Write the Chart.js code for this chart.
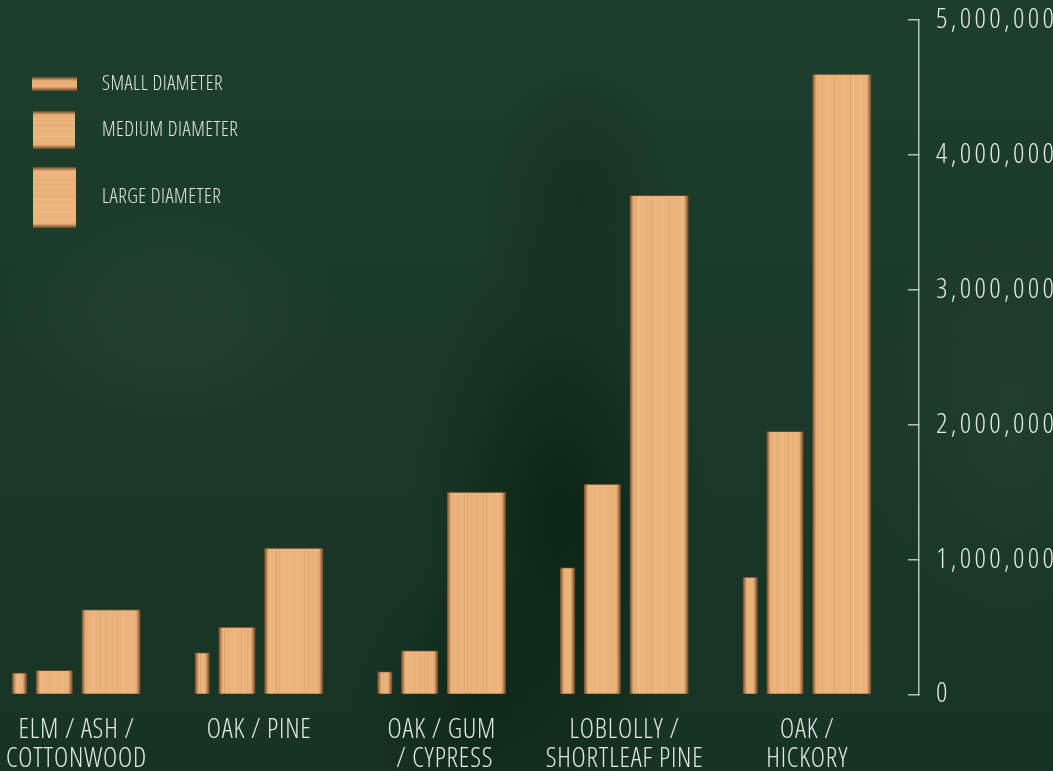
<!DOCTYPE html>
<html><head><meta charset="utf-8">
<script src="https://cdn.jsdelivr.net/npm/chart.js@4.4.1/dist/chart.umd.min.js"></script>
<style>
html,body{margin:0;padding:0;width:1053px;height:771px;overflow:hidden;}
body{
 background:
  radial-gradient(ellipse 200px 420px at 560px 520px, rgba(5,29,15,0.7), rgba(5,29,15,0) 75%),
  radial-gradient(ellipse 130px 180px at 580px 200px, rgba(5,29,15,0.35), rgba(5,29,15,0) 75%),
  radial-gradient(ellipse 160px 200px at 470px 700px, rgba(5,29,15,0.45), rgba(5,29,15,0) 75%),
  radial-gradient(ellipse 240px 170px at 170px 320px, rgba(48,78,60,0.3), rgba(48,78,60,0) 72%),
  radial-gradient(ellipse 200px 320px at 1010px 430px, rgba(46,72,56,0.3), rgba(46,72,56,0) 72%),
  linear-gradient(180deg,#1e3e2d 0%,#1a3928 55%,#173324 100%);
}
#chart{position:absolute;left:0;top:0;}
.leg{position:absolute;color:#e1e7e3;font-family:"Open Sans",sans-serif;font-weight:300;font-stretch:condensed;font-size:20px;letter-spacing:0.5px;line-height:22px;}
.legicon{position:absolute;}
</style>
</head><body>
<canvas id="chart" width="1053" height="771"></canvas>
<div id="legend"></div>
<script>
// ---------- data ----------
const categories = [
  ['ELM / ASH /', 'COTTONWOOD'],
  ['OAK / PINE'],
  ['OAK / GUM', ' / CYPRESS'],
  ['LOBLOLLY /', 'SHORTLEAF PINE'],
  ['OAK /', 'HICKORY']
];
const seriesNames = ['SMALL DIAMETER', 'MEDIUM DIAMETER', 'LARGE DIAMETER'];
const smallValues  = [160000, 310000, 170000, 940000, 870000];
const mediumValues = [180000, 500000, 325000, 1560000, 1950000];
const largeValues  = [630000, 1085000, 1500000, 3700000, 4600000];
const yTicks = [0, 1000000, 2000000, 3000000, 4000000, 5000000];

// ---------- styling / layout ----------
const FONT = '"Open Sans", sans-serif';
const TEXT = '#e4e9e5';
const AXIS = '#b7c0ba';
const barStyle = [
  {offset: -0.312, thickness: 15},
  {offset: -0.1215, thickness: 37},
  {offset: 0.1893, thickness: 59}
];
const legendLayout = [
  {x: 32, y: 77, w: 45, h: 14, ty: 84},
  {x: 33, y: 111, w: 42, h: 38, ty: 130},
  {x: 33, y: 167, w: 43, h: 61, ty: 197}
];

function rnd(a, b) { const s = Math.sin(a * 12.9898 + b * 78.233) * 43758.5453; return s - Math.floor(s); }

function woodGradient(ctx, x0, x1, y0, y1, len, seed) {
  const g = ctx.createLinearGradient(x0, y0, x1, y1);
  const e = v => Math.min(1, Math.max(0, v / len));
  g.addColorStop(0, '#6a472b');
  g.addColorStop(e(1.3), '#98693f');
  g.addColorStop(e(3.6), '#e0a670');
  const stops = [];
  let p = 6, k = 0;
  while (p < len - 6) {
    const r = rnd(seed, k++);
    const shade = r < 0.4 ? '#dca169' : (r < 0.65 ? '#e3a970' : '#f0be8a');
    stops.push([p, shade]);
    p += 3 + r * 5;
  }
  g.addColorStop(e(4.6), '#ebb47d');
  for (const [q, c] of stops) {
    g.addColorStop(e(q - 0.7), '#ebb47d');
    g.addColorStop(e(q), c);
    g.addColorStop(e(q + 0.7), '#ebb47d');
  }
  g.addColorStop(e(len - 4.6), '#eab27b');
  g.addColorStop(e(len - 3.6), '#d89e68');
  g.addColorStop(e(len - 1.3), '#8f633b');
  g.addColorStop(1, '#6a472b');
  return g;
}

function barFill(dsIndex) {
  return (c) => {
    const chart = c.chart;
    if (c.type !== 'data' || !chart.chartArea || !c.raw) return '#ebb47d';
    const cx = chart.scales.x.getPixelForValue(c.raw.x);
    const w = barStyle[dsIndex].thickness;
    const left = cx - w / 2;
    return woodGradient(chart.ctx, left, left + w, 0, 0, w, dsIndex * 10 + c.dataIndex + 1);
  };
}

const seriesValues = [smallValues, mediumValues, largeValues];
const datasets = seriesValues.map((vals, d) => ({
  label: seriesNames[d],
  data: vals.map((v, i) => ({x: i + barStyle[d].offset, y: v})),
  barThickness: barStyle[d].thickness,
  grouped: false,
  backgroundColor: barFill(d),
  borderColor: 'rgba(110,74,45,0.75)',
  borderWidth: {top: 1, left: 0, right: 0, bottom: 0},
  borderSkipped: 'start'
}));

// x labels drawn before datasets (0.8px tracking); y labels (z:1) drawn after with wider tracking
const spacingPlugin = {
  id: 'letterSpacing',
  beforeUpdate(chart) { chart.ctx.letterSpacing = '0.8px'; },
  beforeDraw(chart) { chart.ctx.letterSpacing = '0.8px'; },
  afterDatasetsDraw(chart) { chart.ctx.letterSpacing = '3.4px'; },
  afterDraw(chart) { chart.ctx.letterSpacing = '0.8px'; }
};

Chart.defaults.font.family = FONT;
new Chart(document.getElementById('chart'), {
  type: 'bar',
  data: {datasets},
  plugins: [spacingPlugin],
  options: {
    responsive: false,
    animation: false,
    layout: {padding: {top: 20, left: 0, right: 0, bottom: 0}},
    plugins: {legend: {display: false}, tooltip: {enabled: false}},
    scales: {
      x: {
        type: 'linear',
        offset: false,
        min: -0.4186, max: 4.6118,
        afterBuildTicks: s => { s.ticks = categories.map((c, i) => ({value: i})); },
        afterFit: s => { s.height = 76.5; s.paddingLeft = 0; s.paddingRight = 0; },
        ticks: {
          autoSkip: false, maxRotation: 0, padding: 13,
          color: TEXT, font: {size: 27, weight: '300 condensed', lineHeight: 1.09},
          callback: v => categories[v]
        },
        grid: {display: false},
        border: {display: false}
      },
      y: {
        position: 'right',
        min: 0, max: 5000000,
        afterBuildTicks: s => { s.ticks = yTicks.map(v => ({value: v})); },
        afterFit: s => { s.width = 134; s.paddingTop = 0; s.paddingBottom = 0; },
        ticks: {
          z: 1,
          color: TEXT, font: {size: 28, weight: '300 condensed'}, padding: 28,
          callback: v => v.toLocaleString('en-US')
        },
        grid: {drawOnChartArea: false, drawTicks: true, tickLength: -11, color: AXIS, lineWidth: 1.5},
        border: {display: true, color: AXIS, width: 1.5}
      }
    }
  }
});

// ---------- legend (HTML) ----------
const legend = document.getElementById('legend');
seriesNames.forEach((name, d) => {
  const L = legendLayout[d];
  const cv = document.createElement('canvas');
  cv.width = L.w; cv.height = L.h;
  cv.className = 'legicon';
  cv.style.left = L.x + 'px'; cv.style.top = L.y + 'px';
  const cx = cv.getContext('2d');
  cx.fillStyle = woodGradient(cx, 0, 0, 0, L.h, L.h, 50 + d);
  cx.fillRect(0, 0, L.w, L.h);
  legend.appendChild(cv);
  const t = document.createElement('div');
  t.className = 'leg';
  t.textContent = name;
  t.style.left = '102px';
  t.style.top = (L.ty - 12) + 'px';
  legend.appendChild(t);
});
</script>
</body></html>
